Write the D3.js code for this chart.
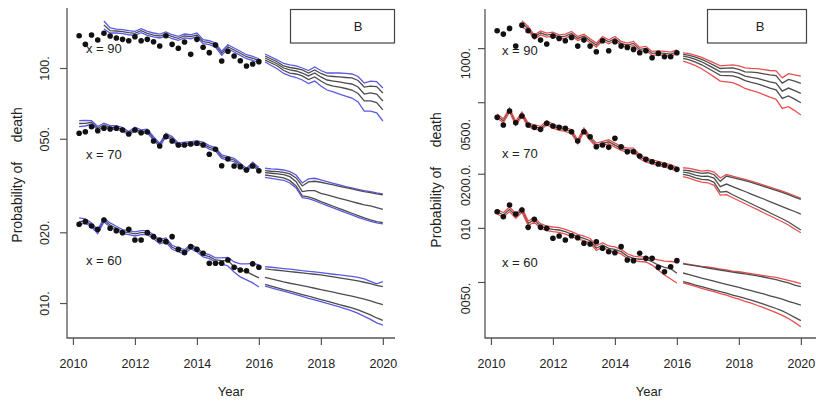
<!DOCTYPE html>
<html>
<head>
<meta charset="utf-8">
<script src="https://cdn.jsdelivr.net/npm/d3@7"></script>
<style>
  body { margin: 0; background: #fff; }
  svg { display: block; font-family: "Liberation Sans", Arial, sans-serif; }
  .axis path.domain { display: none; }
  .axis line { stroke: #555; stroke-width: 1.2; }
  .axis text { fill: #222; font-size: 12.5px; }
</style>
</head>
<body>
<svg id="chart"></svg>
<script>
// time grids
const obsYears = [2010.2, 2010.4, 2010.6, 2010.8, 2011.0, 2011.2, 2011.4, 2011.6, 2011.8, 2012.0,
  2012.2, 2012.4, 2012.6, 2012.8, 2013.0, 2013.2, 2013.4, 2013.6, 2013.8, 2014.0,
  2014.2, 2014.4, 2014.6, 2014.8, 2015.0, 2015.2, 2015.4, 2015.6, 2015.8, 2016.0];
const forecastYears = [2016.2, 2016.4, 2016.6, 2016.8, 2017.0, 2017.2, 2017.4, 2017.6, 2017.8, 2018.0,
  2018.2, 2018.4, 2018.6, 2018.8, 2019.0, 2019.2, 2019.4, 2019.6, 2019.8, 2020.0];
const yearTicks = [2010, 2012, 2014, 2016, 2018, 2020];
const ageLabels = ['x = 90', 'x = 70', 'x = 60'];
const legendText = 'B';

// left panel tick labels
const leftTickValues = [0.1, 0.05, 0.02, 0.01];
const leftTickLabels = ['100.', '050.', '020.', '010.'];
// right panel tick labels
const rightTickValues = [0.1, 0.05, 0.02, 0.01, 0.005];
const rightTickLabels = ['1000.', '0500.', '0200.0.', '010', '0050.'];

// ---- left panel, age 90
const l90Dots = [0.1372,0.1261,0.1381,0.1315,0.1405,0.1368,0.1342,0.1324,0.1306,0.1359,0.1306,0.1324,0.1294,0.1240,0.1372,0.1261,0.1213,0.1290,0.1143,0.1324,0.1225,0.1162,0.1252,0.1071,0.1178,0.1125,0.1074,0.1020,0.1040,0.1064];
const l90FitUp = [0.1585,0.1480,0.1465,0.1455,0.1441,0.1432,0.1469,0.1432,0.1409,0.1395,0.1423,0.1385,0.1364,0.1395,0.1385,0.1409,0.1319,0.1306,0.1277,0.1178,0.1256,0.1216,0.1178,0.1139,0.1121,0.1095];
const l90FitMid = [0.1524,0.1441,0.1437,0.1427,0.1413,0.1405,0.1441,0.1405,0.1381,0.1368,0.1395,0.1359,0.1338,0.1368,0.1359,0.1381,0.1294,0.1281,0.1252,0.1155,0.1232,0.1193,0.1155,0.1117,0.1100,0.1074];
const l90FitLo = [0.1465,0.1409,0.1409,0.1399,0.1385,0.1377,0.1413,0.1377,0.1355,0.1342,0.1368,0.1332,0.1311,0.1342,0.1332,0.1355,0.1269,0.1256,0.1228,0.1132,0.1208,0.1170,0.1132,0.1095,0.1078,0.1053];
const l90FcOutUp = [0.1147,0.1114,0.1081,0.1045,0.1030,0.1020,0.1000,0.0976,0.1010,0.0976,0.0952,0.0952,0.0952,0.0948,0.0943,0.0920,0.0863,0.0880,0.0876,0.0822];
const l90FcInUp = [0.1125,0.1092,0.1061,0.1020,0.1005,0.0995,0.0981,0.0952,0.0981,0.0948,0.0925,0.0920,0.0916,0.0911,0.0907,0.0885,0.0830,0.0838,0.0834,0.0783];
const l90FcMid = [0.1103,0.1071,0.1040,0.1000,0.0981,0.0971,0.0952,0.0925,0.0952,0.0916,0.0889,0.0880,0.0872,0.0863,0.0855,0.0830,0.0775,0.0783,0.0775,0.0724];
const l90FcInLo = [0.1081,0.1050,0.1020,0.0976,0.0952,0.0943,0.0925,0.0893,0.0916,0.0880,0.0851,0.0838,0.0830,0.0818,0.0806,0.0779,0.0724,0.0724,0.0713,0.0663];
const l90FcOutLo = [0.1061,0.1025,0.0990,0.0948,0.0925,0.0911,0.0889,0.0859,0.0880,0.0838,0.0806,0.0791,0.0775,0.0760,0.0745,0.0717,0.0656,0.0656,0.0644,0.0595];

// ---- left panel, age 70
const l70Dots = [0.05276,0.05359,0.05628,0.05411,0.05540,0.05502,0.05540,0.05448,0.05239,0.05448,0.05306,0.05343,0.04892,0.04658,0.05103,0.04892,0.04704,0.04704,0.04751,0.04783,0.04704,0.04295,0.04510,0.03840,0.04102,0.03830,0.03804,0.03682,0.03830,0.03657];
const l70FitUp = [0.05967,0.05981,0.05975,0.05634,0.05819,0.05689,0.05689,0.05579,0.05366,0.05596,0.05450,0.05487,0.05108,0.04784,0.05276,0.05108,0.04784,0.04832,0.04864,0.04893,0.04832,0.04677,0.04587,0.04266,0.04200,0.04130,0.03933,0.03745,0.03972,0.03771];
const l70FitMid = [0.05807,0.05818,0.05875,0.05540,0.05722,0.05594,0.05594,0.05486,0.05276,0.05502,0.05359,0.05395,0.05023,0.04704,0.05188,0.05023,0.04704,0.04751,0.04783,0.04811,0.04751,0.04599,0.04510,0.04195,0.04130,0.04061,0.03867,0.03682,0.03906,0.03708];
const l70FitLo = [0.05628,0.05666,0.05775,0.05446,0.05625,0.05499,0.05499,0.05393,0.05186,0.05408,0.05268,0.05303,0.04938,0.04624,0.05100,0.04938,0.04624,0.04670,0.04702,0.04729,0.04670,0.04521,0.04433,0.04124,0.04060,0.03992,0.03801,0.03619,0.03840,0.03645];
const l70FcOutUp = [0.03745,0.03719,0.03708,0.03682,0.03622,0.03506,0.03243,0.03372,0.03395,0.03339,0.03284,0.03233,0.03179,0.03127,0.03088,0.03048,0.03006,0.02978,0.02940,0.02911];
const l70FcInUp = [0.03657,0.03636,0.03622,0.03600,0.03541,0.03405,0.03148,0.03274,0.03297,0.03265,0.03220,0.03179,0.03139,0.03097,0.03057,0.03018,0.02978,0.02949,0.02911,0.02883];
const l70FcMid = [0.03586,0.03566,0.03541,0.03517,0.03449,0.03284,0.02978,0.03006,0.03006,0.02931,0.02883,0.02835,0.02791,0.02745,0.02700,0.02658,0.02614,0.02588,0.02546,0.02506];
const l70FcInLo = [0.03506,0.03472,0.03439,0.03405,0.03317,0.03148,0.02855,0.02827,0.02772,0.02700,0.02640,0.02581,0.02521,0.02465,0.02410,0.02354,0.02302,0.02257,0.02220,0.02198];
const l70FcOutLo = [0.03428,0.03395,0.03362,0.03329,0.03243,0.03088,0.02808,0.02780,0.02726,0.02658,0.02596,0.02538,0.02481,0.02424,0.02370,0.02317,0.02272,0.02228,0.02192,0.02170];

// ---- left panel, age 60
const l60Dots = [0.02164,0.02220,0.02128,0.02060,0.02257,0.02081,0.02032,0.01993,0.02060,0.01855,0.01855,0.01993,0.01916,0.01855,0.01825,0.01916,0.01694,0.01638,0.01738,0.01694,0.01629,0.01477,0.01477,0.01477,0.01525,0.01420,0.01383,0.01373,0.01467,0.01420];
const l60FitUp = [0.02302,0.02279,0.02192,0.02052,0.02302,0.02192,0.02122,0.02052,0.02032,0.02007,0.02032,0.02032,0.01954,0.01861,0.01892,0.01761,0.01716,0.01687,0.01772,0.01716,0.01634,0.01606,0.01556,0.01556,0.01563,0.01496,0.01467,0.01467,0.01474,0.01452];
const l60FitMid = [0.02220,0.02235,0.02149,0.02013,0.02257,0.02149,0.02081,0.02013,0.01993,0.01968,0.01993,0.01993,0.01916,0.01825,0.01855,0.01727,0.01682,0.01655,0.01738,0.01682,0.01602,0.01576,0.01525,0.01515,0.01515,0.01428,0.01383,0.01360,0.01317,0.01279];
const l60FitLo = [0.02149,0.02192,0.02107,0.01974,0.02213,0.02107,0.02040,0.01974,0.01954,0.01929,0.01954,0.01954,0.01879,0.01789,0.01819,0.01694,0.01650,0.01622,0.01704,0.01650,0.01571,0.01545,0.01496,0.01467,0.01438,0.01356,0.01292,0.01254,0.01218,0.01171];
const l60FcOutUp = [0.01428,0.01420,0.01410,0.01401,0.01393,0.01383,0.01373,0.01365,0.01356,0.01347,0.01336,0.01326,0.01317,0.01308,0.01298,0.01285,0.01266,0.01236,0.01206,0.01233];
const l60FcInUp = [0.01397,0.01387,0.01379,0.01369,0.01360,0.01352,0.01343,0.01334,0.01326,0.01317,0.01304,0.01291,0.01279,0.01266,0.01254,0.01242,0.01226,0.01209,0.01190,0.01174];
const l60FcMid = [0.01285,0.01266,0.01248,0.01230,0.01214,0.01200,0.01186,0.01171,0.01156,0.01140,0.01126,0.01112,0.01097,0.01083,0.01069,0.01054,0.01038,0.01021,0.01001,0.00984];
const l60FcInLo = [0.01200,0.01179,0.01160,0.01140,0.01123,0.01104,0.01086,0.01069,0.01051,0.01034,0.01018,0.01001,0.00984,0.00969,0.00953,0.00935,0.00912,0.00890,0.00864,0.00843];
const l60FcOutLo = [0.01179,0.01160,0.01140,0.01123,0.01104,0.01086,0.01067,0.01048,0.01031,0.01014,0.00996,0.00979,0.00963,0.00944,0.00926,0.00903,0.00877,0.00852,0.00823,0.00805];

// ---- right panel, age 90
const r90Dots = [0.1248,0.1196,0.1287,0.1026,0.1342,0.1248,0.1166,0.1108,0.1053,0.1166,0.1132,0.1098,0.1147,0.1026,0.1108,0.1026,0.09538,0.1098,0.09660,0.1084,0.1026,0.1009,0.09835,0.09416,0.09660,0.08832,0.09344,0.08946,0.08946,0.09416];
const r90FitUp = [0.1422,0.1320,0.1181,0.1247,0.1212,0.1227,0.1186,0.1196,0.1238,0.1161,0.1196,0.1126,0.1066,0.1161,0.1112,0.1161,0.1090,0.1066,0.1090,0.1009,0.1022,0.09586,0.09660,0.09586,0.09501,0.09785];
const r90FitMid = [0.1372,0.1287,0.1151,0.1216,0.1181,0.1196,0.1156,0.1166,0.1207,0.1132,0.1166,0.1098,0.1039,0.1132,0.1084,0.1132,0.1062,0.1039,0.1062,0.09835,0.09962,0.09344,0.09416,0.09344,0.09261,0.09538];
const r90FitLo = [0.1308,0.1254,0.1122,0.1185,0.1151,0.1166,0.1127,0.1137,0.1176,0.1103,0.1137,0.1070,0.1013,0.1103,0.1057,0.1103,0.1035,0.1013,0.1035,0.09586,0.09710,0.09108,0.09178,0.09108,0.09027,0.09297];
const r90FcOutUp = [0.09416,0.09308,0.09108,0.08889,0.08576,0.08274,0.07972,0.08023,0.08075,0.07962,0.07770,0.07711,0.07691,0.07594,0.07507,0.07469,0.06828,0.07214,0.07105,0.06987];
const r90FcInUp = [0.09225,0.09108,0.08900,0.08664,0.08338,0.08013,0.07701,0.07731,0.07751,0.07613,0.07373,0.07345,0.07307,0.07196,0.07087,0.07023,0.06388,0.06698,0.06545,0.06364];
const r90FcMid = [0.09026,0.08877,0.08653,0.08391,0.08044,0.07711,0.07383,0.07383,0.07383,0.07233,0.06987,0.06872,0.06785,0.06638,0.06496,0.06388,0.05766,0.05992,0.05803,0.05599];
const r90FcInLo = [0.08765,0.08598,0.08359,0.08075,0.07721,0.07383,0.07050,0.07032,0.07014,0.06854,0.06588,0.06446,0.06331,0.06164,0.05992,0.05856,0.05252,0.05416,0.05198,0.04964];
const r90FcOutLo = [0.08466,0.08253,0.07982,0.07672,0.07289,0.06916,0.06554,0.06496,0.06429,0.06227,0.05962,0.05811,0.05686,0.05506,0.05333,0.05185,0.04615,0.04722,0.04492,0.04241];

// ---- right panel, age 70
const r70Dots = [0.04118,0.03731,0.04464,0.03843,0.04187,0.03731,0.03623,0.03531,0.03813,0.03684,0.03623,0.03577,0.03425,0.03040,0.03425,0.03212,0.02826,0.02888,0.02805,0.03147,0.02826,0.02651,0.02651,0.02509,0.02405,0.02332,0.02265,0.02236,0.02171,0.02116];
const r70FitUp = [0.04295,0.04044,0.04638,0.03912,0.04407,0.03828,0.03746,0.03670,0.03943,0.03779,0.03670,0.03622,0.03514,0.03091,0.03591,0.03228,0.02963,0.03028,0.03091,0.02963,0.02841,0.02779,0.02779,0.02551,0.02446,0.02392,0.02344,0.02294,0.02245,0.02171];
const r70FitMid = [0.04187,0.03942,0.04521,0.03813,0.04296,0.03731,0.03651,0.03577,0.03843,0.03684,0.03577,0.03531,0.03425,0.03013,0.03500,0.03147,0.02888,0.02952,0.03013,0.02888,0.02769,0.02709,0.02709,0.02487,0.02384,0.02332,0.02285,0.02236,0.02188,0.02116];
const r70FitLo = [0.04081,0.03842,0.04407,0.03716,0.04187,0.03637,0.03559,0.03487,0.03746,0.03591,0.03487,0.03442,0.03338,0.02937,0.03411,0.03067,0.02815,0.02877,0.02937,0.02815,0.02699,0.02640,0.02640,0.02424,0.02324,0.02273,0.02227,0.02179,0.02133,0.02062];
const r70FcOutUp = [0.02160,0.02143,0.02105,0.02070,0.02089,0.02044,0.01893,0.01985,0.01942,0.01900,0.01862,0.01822,0.01776,0.01731,0.01687,0.01644,0.01603,0.01556,0.01509,0.01460];
const r70FcInUp = [0.02097,0.02078,0.02044,0.02011,0.02026,0.01975,0.01815,0.01942,0.01905,0.01869,0.01829,0.01792,0.01746,0.01702,0.01659,0.01617,0.01576,0.01529,0.01484,0.01441];
const r70FcMid = [0.02044,0.02018,0.01967,0.01935,0.01942,0.01893,0.01694,0.01753,0.01698,0.01644,0.01593,0.01542,0.01494,0.01447,0.01401,0.01357,0.01314,0.01273,0.01233,0.01194];
const r70FcInLo = [0.01985,0.01955,0.01900,0.01862,0.01852,0.01792,0.01582,0.01593,0.01529,0.01471,0.01416,0.01362,0.01311,0.01262,0.01214,0.01168,0.01124,0.01078,0.01024,0.00973];
const r70FcOutLo = [0.01925,0.01893,0.01838,0.01799,0.01782,0.01724,0.01523,0.01529,0.01471,0.01416,0.01362,0.01311,0.01262,0.01214,0.01168,0.01124,0.01082,0.01037,0.00985,0.00940];

// ---- right panel, age 60
const r60Dots = [0.01230,0.01153,0.01340,0.01194,0.01257,0.01007,0.01116,0.01007,0.00994,0.00875,0.00901,0.00856,0.00904,0.00881,0.00821,0.00813,0.00837,0.00770,0.00737,0.00727,0.00786,0.00663,0.00657,0.00722,0.00677,0.00677,0.00603,0.00570,0.00608,0.00657];
const r60FitUp = [0.01267,0.01214,0.01306,0.01199,0.01295,0.01092,0.01139,0.01055,0.01024,0.01011,0.01002,0.00980,0.00952,0.00920,0.00901,0.00873,0.00793,0.00827,0.00793,0.00783,0.00759,0.00718,0.00697,0.00689,0.00689,0.00675,0.00663,0.00654,0.00650,0.00646];
const r60FitMid = [0.01230,0.01179,0.01268,0.01164,0.01257,0.01060,0.01106,0.01024,0.00994,0.00982,0.00973,0.00952,0.00924,0.00893,0.00875,0.00848,0.00770,0.00803,0.00770,0.00760,0.00737,0.00697,0.00677,0.00669,0.00669,0.00648,0.00621,0.00603,0.00593,0.00559];
const r60FitLo = [0.01194,0.01145,0.01231,0.01130,0.01221,0.01029,0.01074,0.00994,0.00965,0.00954,0.00945,0.00924,0.00897,0.00867,0.00850,0.00823,0.00748,0.00780,0.00748,0.00738,0.00716,0.00677,0.00657,0.00650,0.00646,0.00621,0.00583,0.00547,0.00520,0.00494];
const r60FcOutUp = [0.00635,0.00627,0.00619,0.00611,0.00606,0.00598,0.00590,0.00583,0.00575,0.00570,0.00563,0.00556,0.00550,0.00543,0.00536,0.00530,0.00520,0.00510,0.00500,0.00490];
const r60FcInUp = [0.00630,0.00622,0.00614,0.00606,0.00598,0.00590,0.00583,0.00575,0.00568,0.00561,0.00554,0.00547,0.00540,0.00533,0.00524,0.00515,0.00504,0.00494,0.00481,0.00471];
const r60FcMid = [0.00561,0.00549,0.00538,0.00526,0.00516,0.00506,0.00495,0.00485,0.00475,0.00466,0.00457,0.00447,0.00438,0.00429,0.00419,0.00410,0.00401,0.00390,0.00381,0.00372];
const r60FcInLo = [0.00502,0.00492,0.00481,0.00471,0.00461,0.00451,0.00442,0.00433,0.00423,0.00414,0.00405,0.00396,0.00386,0.00376,0.00366,0.00356,0.00345,0.00332,0.00318,0.00305];
const r60FcOutLo = [0.00494,0.00483,0.00472,0.00461,0.00451,0.00442,0.00431,0.00422,0.00411,0.00401,0.00390,0.00381,0.00370,0.00360,0.00349,0.00338,0.00326,0.00313,0.00298,0.00282];


class FanPanel {

  constructor(_config, _data) {
    this.config = {
      svg: _config.svg,
      left: _config.left,
      right: _config.right,
      frameRight: _config.frameRight || _config.right,
      top: _config.top,
      bottom: _config.bottom,
      yDomain: _config.yDomain,
      tickValues: _config.tickValues,
      tickLabels: _config.tickLabels,
      labelShift: _config.labelShift,
      tickLabelX: _config.tickLabelX,
      titleX: _config.titleX,
      titleY: _config.titleY,
      bandColor: _config.bandColor,
      ageLabelX: _config.ageLabelX,
      ageLabelY: _config.ageLabelY,
      legend: _config.legend
    };
    this.data = _data;
    this.initVis();
  }

  initVis() {
    let vis = this;
    const c = vis.config;

    // R style: 4% padding around the time range
    vis.xScale = d3.scaleLinear()
      .domain([2009.808, 2020.392])
      .range([c.left, c.right]);

    vis.yScale = d3.scaleLog()
      .domain(c.yDomain)
      .range([c.bottom, c.top]);

    vis.chart = c.svg.append('g');

    vis.line = d3.line()
      .x(d => vis.xScale(d[0]))
      .y(d => vis.yScale(d[1]));

    vis.renderVis();
  }

  renderVis() {
    let vis = this;
    const c = vis.config;
    const gray = '#4d4d4d';

    vis.data.forEach((grp, gi) => {
      const fitYears = obsYears.slice(obsYears.length - grp.fit[0].length);
      const g = vis.chart.append('g');

      // fitted band (centre first, limits on top)
      [grp.fit[1], grp.fit[0], grp.fit[2]].forEach((arr, i) => {
        g.append('path')
          .datum(arr.map((v, j) => [fitYears[j], v]))
          .attr('fill', 'none')
          .attr('stroke', i === 0 ? gray : c.bandColor)
          .attr('stroke-width', 1.3)
          .attr('d', vis.line);
      });

      // forecasts
      grp.fc.forEach((arr, i) => {
        const outer = i === 0 || i === grp.fc.length - 1;
        g.append('path')
          .datum(arr.map((v, j) => [forecastYears[j], v]))
          .attr('fill', 'none')
          .attr('stroke', outer ? c.bandColor : gray)
          .attr('stroke-width', 1.3)
          .attr('d', vis.line);
      });

      g.selectAll('.dot')
        .data(grp.dots.map((v, j) => [obsYears[j], v]))
        .join('circle')
        .attr('class', 'dot')
        .attr('cx', d => vis.xScale(d[0]))
        .attr('cy', d => vis.yScale(d[1]))
        .attr('r', 2.8)
        .attr('fill', '#111');

      vis.chart.append('text')
        .attr('x', c.ageLabelX)
        .attr('y', c.ageLabelY[gi])
        .attr('font-size', '13px')
        .attr('fill', '#222')
        .text(grp.label);
    });

    // axes
    const xAxis = d3.axisBottom(vis.xScale)
      .tickValues(yearTicks)
      .tickFormat(d3.format('d'))
      .tickSize(7)
      .tickPadding(14)
      .tickSizeOuter(0);

    vis.chart.append('g')
      .attr('class', 'axis x-axis')
      .attr('transform', `translate(0,${c.bottom})`)
      .call(xAxis);

    const yAxis = d3.axisLeft(vis.yScale)
      .tickValues(c.tickValues)
      .tickFormat((d, i) => c.tickLabels[i])
      .tickSize(7)
      .tickSizeOuter(0);

    const yAxisG = vis.chart.append('g')
      .attr('class', 'axis y-axis')
      .attr('transform', `translate(${c.left},0)`)
      .call(yAxis);

    yAxisG.selectAll('.tick text')
      .attr('x', null)
      .attr('dy', null)
      .attr('text-anchor', 'middle')
      .attr('transform', (d, i) => `translate(${c.tickLabelX},${c.labelShift[i]}) rotate(-90)`);

    // L-shaped frame
    vis.chart.append('path')
      .attr('d', `M${c.left},${c.top}V${c.bottom}H${c.frameRight}`)
      .attr('fill', 'none')
      .attr('stroke', '#555')
      .attr('stroke-width', 1.3);

    vis.chart.append('text')
      .attr('x', (c.left + c.right) / 2)
      .attr('y', 396)
      .attr('text-anchor', 'middle')
      .attr('font-size', '13px')
      .attr('fill', '#222')
      .text('Year');

    vis.chart.append('text')
      .attr('transform', `translate(${c.titleX},${c.titleY}) rotate(-90)`)
      .attr('text-anchor', 'middle')
      .attr('font-size', '14px')
      .attr('fill', '#222')
      .style('white-space', 'pre')
      .text('Probability of     death');

    // legend box
    vis.chart.append('rect')
      .attr('x', c.legend.x)
      .attr('y', c.legend.y)
      .attr('width', c.legend.w)
      .attr('height', c.legend.h)
      .attr('fill', 'none')
      .attr('stroke', '#444')
      .attr('stroke-width', 1.2);

    vis.chart.append('text')
      .attr('x', c.legend.tx)
      .attr('y', c.legend.y + 21)
      .attr('text-anchor', 'middle')
      .attr('font-size', '13px')
      .attr('fill', '#222')
      .text(legendText);
  }
}

const svg = d3.select('#chart')
  .attr('width', 816)
  .attr('height', 403);

new FanPanel({
  svg: svg, left: 67, right: 395, top: 8, bottom: 338,
  yDomain: [0.0071, 0.18],
  tickValues: leftTickValues, tickLabels: leftTickLabels,
  labelShift: [0, 0, 0, 0], tickLabelX: -18,
  titleX: 22, titleY: 175,
  bandColor: '#5a5ae2',
  ageLabelX: 86, ageLabelY: [53, 159, 265],
  legend: {x: 290.5, y: 9.5, w: 104, h: 33.5, tx: 358}
}, [
  {label: ageLabels[0], dots: l90Dots, fit: [l90FitUp, l90FitMid, l90FitLo], fc: [l90FcOutUp, l90FcInUp, l90FcMid, l90FcInLo, l90FcOutLo]},
  {label: ageLabels[1], dots: l70Dots, fit: [l70FitUp, l70FitMid, l70FitLo], fc: [l70FcOutUp, l70FcInUp, l70FcMid, l70FcInLo, l70FcOutLo]},
  {label: ageLabels[2], dots: l60Dots, fit: [l60FitUp, l60FitMid, l60FitLo], fc: [l60FcOutUp, l60FcInUp, l60FcMid, l60FcInLo, l60FcOutLo]}
]);

new FanPanel({
  svg: svg, left: 485, right: 813, frameRight: 816, top: 9, bottom: 338,
  yDomain: [0.00244, 0.165],
  tickValues: rightTickValues, tickLabels: rightTickLabels,
  labelShift: [15, 32, 11, 1, 16], tickLabelX: -15,
  titleX: 441, titleY: 180,
  bandColor: '#e85050',
  ageLabelX: 502, ageLabelY: [55, 158, 267],
  legend: {x: 707.5, y: 9.5, w: 99, h: 33.5, tx: 760}
}, [
  {label: ageLabels[0], dots: r90Dots, fit: [r90FitUp, r90FitMid, r90FitLo], fc: [r90FcOutUp, r90FcInUp, r90FcMid, r90FcInLo, r90FcOutLo]},
  {label: ageLabels[1], dots: r70Dots, fit: [r70FitUp, r70FitMid, r70FitLo], fc: [r70FcOutUp, r70FcInUp, r70FcMid, r70FcInLo, r70FcOutLo]},
  {label: ageLabels[2], dots: r60Dots, fit: [r60FitUp, r60FitMid, r60FitLo], fc: [r60FcOutUp, r60FcInUp, r60FcMid, r60FcInLo, r60FcOutLo]}
]);
</script>
</body>
</html>
